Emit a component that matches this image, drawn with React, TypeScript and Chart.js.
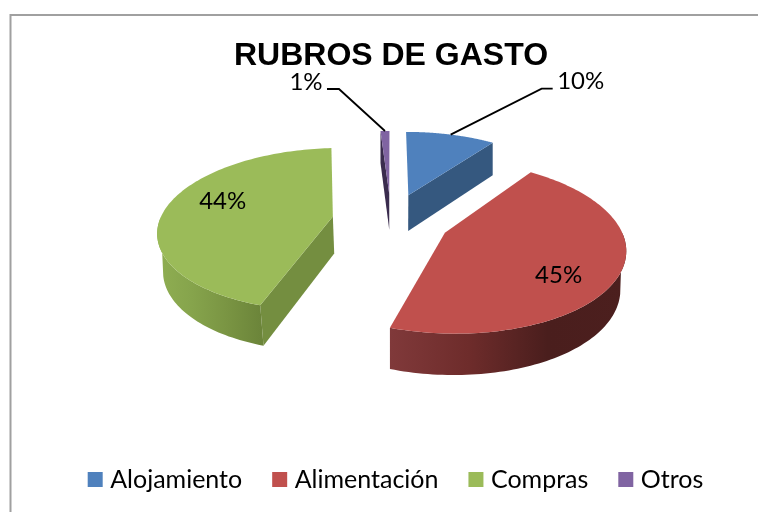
import React, { useEffect, useRef } from "react";
import { Chart, registerables } from "chart.js";

Chart.register(...registerables);

const categories = ["Alojamiento", "Alimentación", "Compras", "Otros"];
const values = [10, 45, 44, 1];
const topColors = ["#4f81bd", "#c0504d", "#9bbb59", "#8064a2"];
const cutColors = ["#35587f", "#7a3332", "#748e40", "#3a2c4e"];
const rimStops = [
  ["#35587f", "#2f4f73"],
  ["#80393a", "#6e2c2b", "#4a1e1d", "#4c1f1e"],
  ["#8fae52", "#86a44c", "#7a9543", "#6c853a"],
  ["#3a2c4e", "#3a2c4e"],
];
// where each percentage sits: inside (offset from the slice tip, as a share of the radius) or on a leader line
const insideLabel: (null | [number, number])[] = [null, [0.57, 0.465], [-0.671, -0.195], null];
const leaderLabel: (null | { elbow: [number, number]; tail: number; text: [number, number] })[] = [
  { elbow: [91, -46], tail: 11, text: [130, -53] },
  null,
  null,
  { elbow: [-46, -42], tail: -12, text: [-79, -49] },
];

const FONT = "Lato";
const RADIUS = 173;
const EXPLODE = 59;
const TILT = 0.465;
const VIEW_DISTANCE = 1095;
const DEPTH = 37;
const DEPTH_SLOPE = 0.022;
const FLOOR_SHRINK = 0.025;
const PIE_CENTER_Y = 220;
const LEGEND_SHIFT = 7;
const RIM_TANGENT = 0.25;

const scaleAt = (v: number) => 1 / (1 - v / VIEW_DISTANCE);

const pie3d = {
  id: "pie3d",
  afterLayout(chart: any) {
    chart.legend.left += LEGEND_SHIFT;
    chart.legend.right += LEGEND_SHIFT;
  },
  beforeDraw(chart: any) {
    const { ctx, width, height } = chart;
    ctx.save();
    ctx.strokeStyle = "#a0a0a0";
    ctx.lineWidth = 2;
    ctx.beginPath();
    ctx.moveTo(10.5, height);
    ctx.lineTo(10.5, 15);
    ctx.lineTo(width, 15);
    ctx.stroke();
    ctx.restore();
  },
  beforeDatasetDraw(chart: any) {
    const ctx = chart.ctx;
    const arcs = chart.getDatasetMeta(0).data;
    const order = arcs
      .map((a: any, i: number) => ({ a, i, mid: (a.startAngle + a.endAngle) / 2 }))
      .sort((p: any, q: any) => Math.sin(p.mid) - Math.sin(q.mid));

    for (const { a, i, mid } of order) {
      const off = a.options.offset;
      const ou = Math.cos(mid) * off;
      const ov = Math.sin(mid) * off;
      const cx = a.x;
      const project = (u: number, v: number): [number, number] => {
        const s = scaleAt(v);
        return [cx + u * s, PIE_CENTER_Y + v * s * TILT];
      };
      const floor = (w: [number, number]): [number, number] => {
        const p = project(w[0], w[1]);
        const shrink = 1 - FLOOR_SHRINK * Math.max(0, Math.min(1, (w[1] + 100) / 100));
        return [cx + (p[0] - cx) * shrink, p[1] + DEPTH + w[1] * DEPTH_SLOPE];
      };
      const at = (ang: number, r: number): [number, number] => [ou + Math.cos(ang) * r, ov + Math.sin(ang) * r];

      const poly = (pts: [number, number][]) => {
        ctx.beginPath();
        pts.forEach((p, k) => (k ? ctx.lineTo(p[0], p[1]) : ctx.moveTo(p[0], p[1])));
        ctx.closePath();
      };

      const wall = (w1: [number, number], w2: [number, number]) => {
        poly([project(w1[0], w1[1]), project(w2[0], w2[1]), floor(w2), floor(w1)]);
        ctx.fillStyle = cutColors[i];
        ctx.fill();
      };

      const r = a.outerRadius;
      const tip: [number, number] = [ou, ov];
      if (Math.sin(a.startAngle - Math.PI / 2) > 0) wall(tip, at(a.startAngle, r));
      if (Math.sin(a.endAngle + Math.PI / 2) > 0) wall(tip, at(a.endAngle, r));

      // outer rim: the part of the arc that faces the viewer
      const frontAngles: number[] = [];
      const steps = 120;
      for (let k = 0; k <= steps; k++) {
        const ang = a.startAngle + ((a.endAngle - a.startAngle) * k) / steps;
        if (Math.sin(ang) > -0.001) frontAngles.push(ang);
      }
      if (frontAngles.length > 1) {
        const upper = frontAngles.map((ang) => {
          const w = at(ang, r);
          return project(w[0], w[1]);
        });
        const lower = frontAngles
          .filter((ang) => Math.sin(ang) >= RIM_TANGENT)
          .map((ang) => floor(at(ang, r)));
        poly([...upper, ...lower.reverse()]);
        const xs = upper.map((p) => p[0]);
        const g = ctx.createLinearGradient(Math.min(...xs), 0, Math.max(...xs), 0);
        rimStops[i].forEach((c, k) => g.addColorStop(k / (rimStops[i].length - 1), c));
        ctx.fillStyle = g;
        ctx.fill();
      }

      // top face
      const top: [number, number][] = [project(tip[0], tip[1])];
      for (let k = 0; k <= steps; k++) {
        const ang = a.startAngle + ((a.endAngle - a.startAngle) * k) / steps;
        const w = at(ang, r);
        top.push(project(w[0], w[1]));
      }
      poly(top);
      ctx.fillStyle = a.options.backgroundColor;
      ctx.fill();
    }
    return false;
  },
  afterDatasetsDraw(chart: any) {
    const ctx = chart.ctx;
    const arcs = chart.getDatasetMeta(0).data;
    const total = values.reduce((s, x) => s + x, 0);
    ctx.save();
    ctx.font = `24px ${FONT}`;
    ctx.fillStyle = "#000";
    ctx.textAlign = "center";
    ctx.textBaseline = "middle";
    arcs.forEach((a: any, i: number) => {
      const mid = (a.startAngle + a.endAngle) / 2;
      const off = a.options.offset;
      const ou = Math.cos(mid) * off;
      const ov = Math.sin(mid) * off;
      const project = (u: number, v: number): [number, number] => {
        const s = scaleAt(v);
        return [a.x + u * s, PIE_CENTER_Y + v * s * TILT];
      };
      const text = `${Math.round((values[i] / total) * 100)}%`;
      const inside = insideLabel[i];
      const leader = leaderLabel[i];
      if (inside) {
        const p = project(ou + inside[0] * a.outerRadius, ov + inside[1] * a.outerRadius);
        ctx.fillText(text, p[0], p[1]);
      } else if (leader) {
        const p = project(ou + Math.cos(mid) * a.outerRadius, ov + Math.sin(mid) * a.outerRadius);
        const ex = p[0] + leader.elbow[0];
        const ey = p[1] + leader.elbow[1];
        ctx.strokeStyle = "#000";
        ctx.lineWidth = 1.8;
        ctx.beginPath();
        ctx.moveTo(p[0], p[1]);
        ctx.lineTo(ex, ey);
        ctx.lineTo(ex + leader.tail, ey);
        ctx.stroke();
        ctx.fillText(text, p[0] + leader.text[0], p[1] + leader.text[1]);
      }
    });
    ctx.restore();
  },
};

export default function App() {
  const ref = useRef<HTMLCanvasElement>(null);
  useEffect(() => {
    const chart = new Chart(ref.current as HTMLCanvasElement, {
      type: "pie",
      data: {
        labels: categories,
        datasets: [
          {
            data: values,
            backgroundColor: topColors,
            borderWidth: 0,
            offset: EXPLODE,
          },
        ],
      },
      options: {
        responsive: false,
        animation: false,
        radius: RADIUS,
        events: [],
        layout: { padding: { left: 24, right: 0, top: 37, bottom: 10 } },
        plugins: {
          tooltip: { enabled: false },
          title: {
            display: true,
            text: "RUBROS DE GASTO",
            color: "#000",
            font: { family: "Liberation Sans", size: 32, weight: "bold" },
            padding: { top: 0, bottom: 4 },
          },
          legend: {
            position: "bottom",
            labels: {
              color: "#000",
              font: { family: FONT, size: 25 },
              usePointStyle: true,
              pointStyle: "rect",
              boxWidth: 5,
              boxHeight: 15,
              padding: 35,
            },
          },
        },
      } as any,
      plugins: [pie3d],
    });
    return () => chart.destroy();
  }, []);
  return (
    <div style={{ position: "fixed", left: 0, top: 0, width: 758, height: 512, overflow: "hidden", background: "#fff" }}>
      <canvas ref={ref} width={758} height={512} style={{ display: "block" }} />
    </div>
  );
}
